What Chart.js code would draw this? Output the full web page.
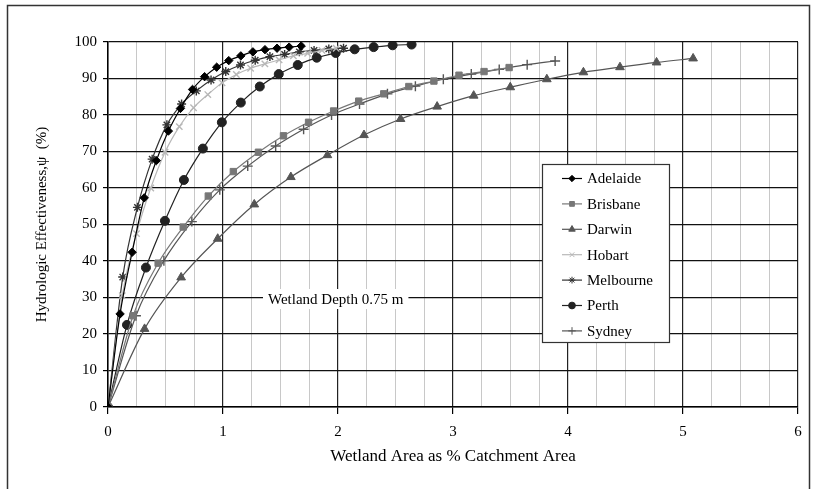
<!DOCTYPE html>
<html>
<head>
<meta charset="utf-8">
<script src="https://cdn.jsdelivr.net/npm/chart.js@4/dist/chart.umd.min.js"></script>
<style>
  html, body { margin: 0; padding: 0; background: #fff; }
  #wrap { width: 816px; height: 489px; position: relative; }
</style>
</head>
<body>
<div id="wrap"><canvas id="c" width="816" height="489"></canvas></div>
<script>
// Wetland area (% of catchment) and hydrologic effectiveness (%) per city
const cities = ['Adelaide', 'Brisbane', 'Darwin', 'Hobart', 'Melbourne', 'Perth', 'Sydney'];

const adelaideX = [0, 0.105, 0.21, 0.315, 0.42, 0.525, 0.63, 0.735, 0.84, 0.945, 1.05, 1.155, 1.26, 1.365, 1.47, 1.575, 1.68];
const adelaideY = [0, 25.5, 42.4, 57.3, 67.5, 75.6, 81.8, 87.0, 90.5, 93.1, 94.9, 96.2, 97.3, 97.9, 98.3, 98.6, 98.9];

const brisbaneX = [0, 0.218, 0.436, 0.654, 0.872, 1.09, 1.308, 1.526, 1.744, 1.962, 2.18, 2.398, 2.616, 2.834, 3.052, 3.27, 3.488];
const brisbaneY = [0, 25.0, 39.4, 49.3, 57.8, 64.5, 69.8, 74.3, 78.0, 81.1, 83.8, 85.8, 87.8, 89.3, 90.9, 91.9, 93.0];

const darwinX = [0, 0.318, 0.636, 0.954, 1.272, 1.59, 1.908, 2.226, 2.544, 2.862, 3.18, 3.498, 3.816, 4.134, 4.452, 4.77, 5.088];
const darwinY = [0, 21.4, 35.5, 46.1, 55.5, 63.0, 69.0, 74.5, 78.9, 82.3, 85.3, 87.6, 89.8, 91.7, 93.1, 94.4, 95.5];

const hobartX = [0, 0.124, 0.248, 0.372, 0.496, 0.62, 0.744, 0.868, 0.992, 1.116, 1.24, 1.364, 1.488, 1.612, 1.736, 1.86, 1.984];
const hobartY = [0, 30.5, 47.5, 60.0, 69.8, 76.8, 82.0, 85.6, 88.8, 91.1, 92.8, 94.0, 95.1, 96.2, 96.9, 97.7, 98.3];

const melbourneX = [0, 0.128, 0.256, 0.384, 0.512, 0.64, 0.768, 0.896, 1.024, 1.152, 1.28, 1.408, 1.536, 1.664, 1.792, 1.92, 2.048];
const melbourneY = [0, 35.6, 54.7, 67.9, 77.3, 83.0, 86.6, 89.6, 91.9, 93.7, 95.0, 96.0, 96.6, 97.3, 97.7, 98.1, 98.3];

const perthX = [0, 0.165, 0.33, 0.495, 0.66, 0.825, 0.99, 1.155, 1.32, 1.485, 1.65, 1.815, 1.98, 2.145, 2.31, 2.475, 2.64];
const perthY = [0, 22.5, 38.2, 51.0, 62.2, 70.8, 78.0, 83.4, 87.8, 91.2, 93.7, 95.7, 97.0, 98.0, 98.6, 99.1, 99.3];

const sydneyX = [0, 0.243, 0.486, 0.729, 0.972, 1.215, 1.458, 1.701, 1.944, 2.187, 2.43, 2.673, 2.916, 3.159, 3.402, 3.645, 3.888];
const sydneyY = [0, 25.0, 40.1, 50.8, 59.5, 66.0, 71.5, 76.1, 80.0, 83.0, 85.8, 87.9, 89.8, 91.2, 92.5, 93.8, 94.8];

const xTickLabels = [0, 1, 2, 3, 4, 5, 6];
const noteText = 'Wetland Depth 0.75 m';

const SERIF = '"Liberation Serif", "Times New Roman", serif';

function pairs(xs, ys) { return xs.map((x, i) => ({ x: x, y: ys[i] })); }

const styles = {
  Adelaide:  { color: '#000000', point: 'rectRot',  radius: 4.2, fill: true },
  Brisbane:  { color: '#777777', point: 'rect',     radius: 4.5, fill: true },
  Darwin:    { color: '#555555', point: 'triangle', radius: 5,   fill: true },
  Hobart:    { color: '#b8b8b8', point: 'crossRot', radius: 4.5, fill: false },
  Melbourne: { color: '#333333', point: 'star',     radius: 4.5, fill: false },
  Perth:     { color: '#222222', point: 'circle',   radius: 4.5, fill: true },
  Sydney:    { color: '#555555', point: 'cross',    radius: 5,   fill: false }
};

const seriesData = {
  Adelaide: pairs(adelaideX, adelaideY),
  Brisbane: pairs(brisbaneX, brisbaneY),
  Darwin: pairs(darwinX, darwinY),
  Hobart: pairs(hobartX, hobartY),
  Melbourne: pairs(melbourneX, melbourneY),
  Perth: pairs(perthX, perthY),
  Sydney: pairs(sydneyX, sydneyY)
};

const datasets = cities.map(name => {
  const s = styles[name];
  return {
    label: name,
    data: seriesData[name],
    borderColor: s.color,
    backgroundColor: s.color,
    borderWidth: 1.2,
    pointStyle: s.point,
    pointRadius: s.radius,
    pointHoverRadius: s.radius,
    pointBackgroundColor: s.fill ? s.color : 'rgba(0,0,0,0)',
    pointBorderColor: s.color,
    pointBorderWidth: s.fill ? 1 : 1.4,
    cubicInterpolationMode: 'monotone',
    fill: false
  };
});

// Boxed legend sitting inside the plot
const boxLegend = {
  id: 'boxLegend',
  afterDraw(chart) {
    const ctx = chart.ctx;
    const left = 542, top = 164, w = 127, h = 178;
    ctx.save();
    ctx.fillStyle = '#ffffff';
    ctx.fillRect(left, top, w, h);
    ctx.strokeStyle = '#333333';
    ctx.lineWidth = 1.2;
    ctx.strokeRect(left + 0.5, top + 0.5, w, h);
    ctx.font = '15px ' + SERIF;
    ctx.textBaseline = 'middle';
    ctx.textAlign = 'left';
    chart.data.datasets.forEach((ds, i) => {
      const y = 178.5 + i * 25.4;
      ctx.strokeStyle = ds.borderColor;
      ctx.lineWidth = 1.2;
      ctx.beginPath();
      ctx.moveTo(562, y);
      ctx.lineTo(582, y);
      ctx.stroke();
      ctx.fillStyle = ds.pointBackgroundColor;
      ctx.strokeStyle = ds.pointBorderColor;
      ctx.lineWidth = 1;
      Chart.helpers.drawPoint(ctx, {
        pointStyle: ds.pointStyle,
        radius: ds.pointRadius * 0.75,
        rotation: 0,
        borderWidth: 1
      }, 572, y);
      ctx.fillStyle = '#000000';
      ctx.fillText(ds.label, 587, y + 1);
    });
    ctx.restore();
  }
};

// Text note with a white background over the grid
const depthNote = {
  id: 'depthNote',
  afterDatasetsDraw(chart) {
    const ctx = chart.ctx;
    ctx.save();
    ctx.font = '15px ' + SERIF;
    const tw = ctx.measureText(noteText).width;
    const x = 268, y = 299;
    ctx.fillStyle = '#ffffff';
    ctx.fillRect(x - 5, y - 10, tw + 10, 20);
    ctx.fillStyle = '#000000';
    ctx.textBaseline = 'middle';
    ctx.textAlign = 'left';
    ctx.fillText(noteText, x, y + 1);
    ctx.restore();
  }
};

// Outer frame around the whole figure
const outerFrame = {
  id: 'outerFrame',
  afterDraw(chart) {
    const ctx = chart.ctx;
    ctx.save();
    ctx.strokeStyle = '#333333';
    ctx.lineWidth = 1.5;
    ctx.strokeRect(7.5, 5.5, 802, 520);
    ctx.restore();
  }
};

const isMajor = v => Math.abs(v - Math.round(v)) < 1e-6;

new Chart(document.getElementById('c'), {
  type: 'line',
  data: { datasets: datasets },
  options: {
    responsive: false,
    animation: false,
    events: [],
    layout: { padding: { top: 42, right: 18, left: 0, bottom: 0 } },
    plugins: {
      legend: { display: false },
      tooltip: { enabled: false }
    },
    scales: {
      x: {
        type: 'linear',
        min: 0,
        max: 6,
        afterFit(scale) { scale.height = 82; },
        afterBuildTicks(scale) {
          const t = [];
          for (let i = 0; i <= 24; i++) t.push({ value: i * 0.25 });
          scale.ticks = t;
        },
        ticks: {
          autoSkip: false,
          maxRotation: 0,
          padding: 9,
          color: '#000',
          font: { family: SERIF, size: 15 },
          callback: v => (isMajor(v) && xTickLabels.includes(Math.round(v))) ? String(Math.round(v)) : ''
        },
        grid: {
          color: c => isMajor(c.tick.value) ? '#222222' : '#c8c8c8',
          lineWidth: c => isMajor(c.tick.value) ? 1.2 : 1,
          tickColor: c => isMajor(c.tick.value) ? '#000000' : 'rgba(0,0,0,0)',
          tickLength: 7,
          drawTicks: true
        },
        border: { display: true, color: '#000', width: 1.5 },
        title: {
          display: true,
          text: 'Wetland Area as % Catchment Area',
          color: '#000',
          font: { family: SERIF, size: 17 },
          padding: { top: 0, bottom: 22 }
        }
      },
      y: {
        type: 'linear',
        min: 0,
        max: 100,
        afterFit(scale) { scale.width = 108; },
        ticks: {
          stepSize: 10,
          padding: 6,
          color: '#000',
          font: { family: SERIF, size: 15 }
        },
        grid: {
          color: '#111111',
          lineWidth: 1.2,
          tickColor: '#000',
          tickLength: 5
        },
        border: { display: true, color: '#000', width: 1.5 },
        title: {
          display: true,
          text: 'Hydrologic Effectiveness,\u03c8  (%)',
          color: '#000',
          font: { family: SERIF, size: 15 },
          padding: { top: 33, bottom: 0 }
        }
      }
    }
  },
  plugins: [depthNote, boxLegend, outerFrame]
});
</script>
</body>
</html>
